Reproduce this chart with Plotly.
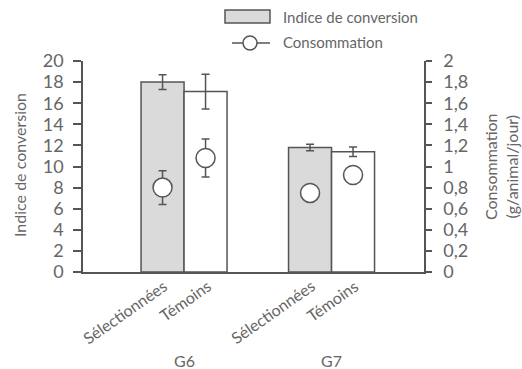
import plotly.graph_objects as go

# ---- data ----
groups = ["G6", "G7"]
treatments = ["Sélectionnées", "Témoins"]
indice = [[18.0, 17.1], [11.8, 11.4]]           # indice de conversion
indice_err = [[0.7, 1.65], [0.3, 0.45]]
conso = [[0.80, 1.08], [0.75, 0.92]]             # g/animal/jour
conso_err = [[0.16, 0.18], [0.0, 0.0]]
left_ticks = list(range(0, 21, 2))
right_ticks = [0, 0.2, 0.4, 0.6, 0.8, 1, 1.2, 1.4, 1.6, 1.8, 2]
right_ticktext = ["0", "0,2", "0,4", "0,6", "0,8", "1", "1,2", "1,4", "1,6", "1,8", "2"]

# ---- layout constants ----
W, H = 522, 369
ML, MR, MT, MB = 83, 98, 61, 97
PW, PH = W - ML - MR, H - MT - MB
first_offset = 1.85
group_gap = 3.43
xmax = 7.93
FONT = "Lato, Liberation Sans, sans-serif"
TXT = "#666666"
LINE = "#555555"
fills = ["#dadada", "#ffffff"]

def px2paper(x, y):
    return (x - ML) / PW, (H - MB - y) / PH

fig = go.Figure()

for t_i, t in enumerate(treatments):
    xs = [first_offset + g_i * group_gap + t_i for g_i in range(len(groups))]
    fig.add_trace(go.Bar(
        x=xs, y=[indice[g][t_i] for g in range(len(groups))],
        width=1.0, marker=dict(color=fills[t_i], line=dict(color=LINE, width=1.5)),
        error_y=dict(type="data", array=[indice_err[g][t_i] for g in range(len(groups))],
                     color=LINE, thickness=1.5, width=4),
        showlegend=False, yaxis="y"))

cx, cy, ce = [], [], []
for g_i in range(len(groups)):
    for t_i in range(len(treatments)):
        cx.append(first_offset + g_i * group_gap + t_i)
        cy.append(conso[g_i][t_i])
        ce.append(conso_err[g_i][t_i])
fig.add_trace(go.Scatter(
    x=cx, y=cy, mode="markers", yaxis="y2",
    marker=dict(symbol="circle", size=19, color="white", line=dict(color=LINE, width=1.5)),
    error_y=dict(type="data", array=ce, color=LINE, thickness=1.5, width=4),
    showlegend=False))

annotations = []
# rotated category labels
for g_i in range(len(groups)):
    for t_i, t in enumerate(treatments):
        annotations.append(dict(x=first_offset + g_i * group_gap + t_i, xref="x", y=0, yref="paper",
                                text=t, textangle=-35, xanchor="right", yanchor="top",
                                xshift=11, yshift=-1, showarrow=False,
                                font=dict(size=16, color=TXT, family=FONT)))
for g_i, g in enumerate(groups):
    gx = first_offset + g_i * group_gap + 0.5
    annotations.append(dict(x=gx, xref="x", y=px2paper(0, 360)[1], yref="paper",
                            xanchor="center", yanchor="middle",
                            text=g, showarrow=False, font=dict(size=16, color=TXT, family=FONT)))

# axis titles
ax, ay = px2paper(19, 165)
annotations.append(dict(x=ax, y=ay, xref="paper", yref="paper", text="Indice de conversion",
                        textangle=-90, xanchor="center", yanchor="middle", showarrow=False,
                        font=dict(size=16, color=TXT, family=FONT)))
ax, ay = px2paper(501, 167)
annotations.append(dict(x=ax, y=ay, xref="paper", yref="paper",
                        text="Consommation<br>(g/animal/jour)", textangle=-90,
                        xanchor="center", yanchor="middle", showarrow=False,
                        font=dict(size=16, color=TXT, family=FONT)))

# custom legend
shapes = []
x0, y0 = px2paper(225, 10)
x1, y1 = px2paper(270, 23)
shapes.append(dict(type="rect", xref="paper", yref="paper", x0=x0, y0=y0, x1=x1, y1=y1,
                   fillcolor=fills[0], line=dict(color=LINE, width=1.5)))
x0, y0 = px2paper(232, 43)
x1, _ = px2paper(270, 43)
shapes.append(dict(type="line", xref="paper", yref="paper", x0=x0, y0=y0, x1=x1, y1=y0,
                   line=dict(color=LINE, width=1.5)))
cx0, cy0 = px2paper(243, 36)
cx1, cy1 = px2paper(257, 50)
shapes.append(dict(type="circle", xref="paper", yref="paper", x0=cx0, y0=cy0, x1=cx1, y1=cy1,
                   fillcolor="white", line=dict(color=LINE, width=1.5)))
lx, ly = px2paper(281, 17)
annotations.append(dict(x=lx, y=ly, xref="paper", yref="paper", text="Indice de conversion",
                        xanchor="left", yanchor="middle", showarrow=False,
                        font=dict(size=15, color=TXT, family=FONT)))
lx, ly = px2paper(281, 42)
annotations.append(dict(x=lx, y=ly, xref="paper", yref="paper", text="Consommation",
                        xanchor="left", yanchor="middle", showarrow=False,
                        font=dict(size=15, color=TXT, family=FONT)))

fig.update_layout(
    width=W, height=H, margin=dict(l=ML, r=MR, t=MT, b=MB),
    paper_bgcolor="white", plot_bgcolor="white",
    font=dict(family=FONT, color=TXT, size=16),
    barmode="overlay",
    xaxis=dict(range=[0, xmax], showticklabels=False,
               showline=True, linecolor=LINE, linewidth=1.5, ticks="", showgrid=False,
               zeroline=False, fixedrange=True),
    yaxis=dict(range=[0, 20], tickvals=left_ticks, showline=True, linecolor=LINE, linewidth=1.5,
               ticks="outside", ticklen=8, tickcolor=LINE, tickwidth=1.5, showgrid=False,
               zeroline=False, tickfont=dict(size=18, color=TXT), ticklabelstandoff=6),
    yaxis2=dict(range=[0, 2], overlaying="y", side="right", tickvals=right_ticks,
                ticktext=right_ticktext, showline=True, linecolor=LINE, linewidth=1.5,
                ticks="outside", ticklen=6, tickcolor=LINE, tickwidth=1.5, showgrid=False,
                zeroline=False, tickfont=dict(size=18, color=TXT), ticklabelstandoff=8),
    shapes=shapes, annotations=annotations,
)

fig.write_html("out.html")
